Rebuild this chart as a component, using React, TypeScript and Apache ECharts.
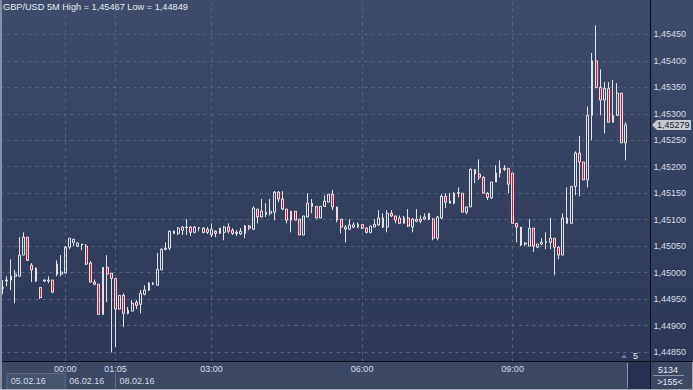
import React, { useEffect, useRef } from 'react';
import * as echarts from 'echarts';

const open = [
  1.44970,1.44984,1.44986,1.44993,1.44993,1.45033,1.45067,1.45014,1.45008,1.44972,
  1.44984,1.44984,1.44986,1.45016,1.44997,1.44999,1.45048,1.45057,1.45050,1.45052,
  1.45050,1.45018,1.44982,1.44978,1.44921,1.45010,1.44999,1.44989,1.44931,1.44957,
  1.44923,1.44927,1.44944,1.44940,1.44959,1.44967,1.44978,1.44976,1.45005,1.45044,
  1.45046,1.45074,1.45074,1.45080,1.45085,1.45086,1.45076,1.45084,1.45084,1.45082,
  1.45071,1.45078,1.45074,1.45076,1.45086,1.45080,1.45074,1.45073,1.45074,1.45088,
  1.45082,1.45120,1.45105,1.45114,1.45112,1.45114,1.45152,1.45139,1.45120,1.45099,
  1.45116,1.45101,1.45071,1.45105,1.45131,1.45125,1.45103,1.45125,1.45133,1.45148,
  1.45124,1.45101,1.45082,1.45082,1.45086,1.45086,1.45091,1.45084,1.45076,1.45086,
  1.45090,1.45103,1.45086,1.45112,1.45107,1.45103,1.45093,1.45103,1.45086,1.45097,
  1.45101,1.45101,1.45112,1.45101,1.45065,1.45103,1.45144,1.45131,1.45131,1.45150,
  1.45150,1.45114,1.45124,1.45195,1.45186,1.45180,1.45150,1.45141,1.45171,1.45188,
  1.45195,1.45197,1.45188,1.45093,1.45086,1.45054,1.45050,1.45084,1.45048,1.45054,
  1.45057,1.45057,1.45065,1.45048,1.45033,1.45103,1.45093,1.45163,1.45226,1.45209,
  1.45175,1.45297,1.45400,1.45350,1.45326,1.45348,1.45284,1.45297,1.45339,1.45245,
];
const close = [
  1.44972,1.44986,1.44993,1.44997,1.45033,1.45067,1.45023,1.45005,1.44984,1.44953,
  1.44986,1.44986,1.44963,1.44997,1.45001,1.45048,1.45065,1.45063,1.45056,1.45054,
  1.45016,1.44982,1.44978,1.44921,1.45010,1.44997,1.44989,1.44931,1.44957,1.44923,
  1.44929,1.44942,1.44938,1.44961,1.44967,1.44980,1.44980,1.45006,1.45044,1.45046,
  1.45078,1.45078,1.45084,1.45086,1.45086,1.45076,1.45086,1.45085,1.45076,1.45076,
  1.45082,1.45074,1.45084,1.45086,1.45078,1.45074,1.45076,1.45078,1.45088,1.45084,
  1.45122,1.45105,1.45116,1.45110,1.45116,1.45152,1.45139,1.45120,1.45099,1.45116,
  1.45099,1.45071,1.45107,1.45131,1.45125,1.45103,1.45125,1.45135,1.45148,1.45124,
  1.45099,1.45086,1.45086,1.45090,1.45090,1.45091,1.45084,1.45076,1.45088,1.45091,
  1.45103,1.45086,1.45112,1.45107,1.45099,1.45093,1.45103,1.45088,1.45101,1.45101,
  1.45097,1.45105,1.45101,1.45065,1.45105,1.45144,1.45133,1.45135,1.45150,1.45151,
  1.45114,1.45124,1.45195,1.45186,1.45180,1.45150,1.45142,1.45171,1.45188,1.45197,
  1.45197,1.45167,1.45093,1.45086,1.45052,1.45056,1.45084,1.45050,1.45054,1.45057,
  1.45059,1.45065,1.45048,1.45033,1.45103,1.45093,1.45163,1.45226,1.45209,1.45175,
  1.45297,1.45400,1.45350,1.45326,1.45348,1.45284,1.45297,1.45339,1.45245,1.45279,
];
const low = [
  1.44959,1.44974,1.44967,1.44942,1.44993,1.45033,1.45022,1.44982,1.44982,1.44950,
  1.44982,1.44980,1.44961,1.44993,1.44993,1.44999,1.45044,1.45050,1.45048,1.45042,
  1.45014,1.44982,1.44976,1.44921,1.44921,1.44944,1.44849,1.44859,1.44931,1.44897,
  1.44921,1.44927,1.44931,1.44923,1.44957,1.44965,1.44976,1.44976,1.45005,1.45042,
  1.45042,1.45073,1.45071,1.45071,1.45071,1.45069,1.45074,1.45078,1.45074,1.45073,
  1.45067,1.45067,1.45073,1.45061,1.45074,1.45071,1.45069,1.45071,1.45065,1.45080,
  1.45080,1.45093,1.45105,1.45105,1.45108,1.45099,1.45133,1.45118,1.45093,1.45076,
  1.45099,1.45071,1.45071,1.45105,1.45112,1.45103,1.45103,1.45124,1.45133,1.45118,
  1.45095,1.45074,1.45057,1.45080,1.45084,1.45084,1.45082,1.45074,1.45074,1.45086,
  1.45088,1.45084,1.45076,1.45105,1.45093,1.45093,1.45093,1.45086,1.45076,1.45095,
  1.45093,1.45099,1.45099,1.45061,1.45061,1.45101,1.45122,1.45131,1.45129,1.45142,
  1.45114,1.45110,1.45124,1.45169,1.45175,1.45150,1.45137,1.45139,1.45171,1.45180,
  1.45192,1.45150,1.45093,1.45057,1.45050,1.45050,1.45050,1.45039,1.45046,1.45052,
  1.45044,1.45044,1.44995,1.45025,1.45033,1.45093,1.45093,1.45146,1.45144,1.45175,
  1.45161,1.45250,1.45348,1.45297,1.45263,1.45284,1.45284,1.45297,1.45245,1.45212,
];
const high = [
  1.44986,1.44993,1.45025,1.45005,1.45067,1.45076,1.45067,1.45018,1.45010,1.44972,
  1.44987,1.44993,1.44986,1.45023,1.45033,1.45050,1.45065,1.45063,1.45057,1.45054,
  1.45054,1.45022,1.44987,1.44978,1.45010,1.45033,1.44999,1.44989,1.44957,1.44961,
  1.44935,1.44948,1.44948,1.44967,1.44976,1.44982,1.44982,1.45037,1.45046,1.45057,
  1.45080,1.45080,1.45086,1.45088,1.45101,1.45088,1.45088,1.45086,1.45086,1.45086,
  1.45093,1.45080,1.45084,1.45088,1.45093,1.45084,1.45080,1.45084,1.45090,1.45090,
  1.45125,1.45120,1.45139,1.45131,1.45139,1.45154,1.45154,1.45154,1.45120,1.45116,
  1.45116,1.45101,1.45107,1.45150,1.45139,1.45125,1.45125,1.45146,1.45148,1.45156,
  1.45124,1.45101,1.45090,1.45101,1.45095,1.45095,1.45091,1.45086,1.45088,1.45101,
  1.45118,1.45112,1.45118,1.45118,1.45107,1.45108,1.45107,1.45120,1.45103,1.45120,
  1.45108,1.45112,1.45112,1.45103,1.45107,1.45148,1.45150,1.45150,1.45152,1.45161,
  1.45150,1.45124,1.45197,1.45195,1.45214,1.45182,1.45152,1.45171,1.45203,1.45212,
  1.45203,1.45197,1.45188,1.45093,1.45086,1.45057,1.45101,1.45084,1.45054,1.45065,
  1.45076,1.45103,1.45065,1.45050,1.45112,1.45161,1.45163,1.45229,1.45258,1.45209,
  1.45314,1.45415,1.45467,1.45384,1.45360,1.45360,1.45364,1.45358,1.45339,1.45284,
];

const slotCount = 155;
const timeTickIndex = [15, 27, 50, 86, 122];
const timeTickText = ['00:00', '01:05', '03:00', '06:00', '09:00'];
const dateTickIndex = [1, 15, 27];
const dateTickText = ['05.02.16', '06.02.16', '08.02.16'];
const priceTicks = [1.4485, 1.449, 1.4495, 1.45, 1.4505, 1.451, 1.4515, 1.452, 1.4525, 1.453, 1.4535, 1.454, 1.4545];
const yMin = 1.44832;
const yMax = 1.45515;
const barsOnScreen = '>155<';
const volumeText = '5134';
const scrollText = '5';

const FONT = '"Liberation Sans", Arial, sans-serif';
const LABEL = '#d6dce8';
const GRIDC = '#5a6681';

const fmt = (v: number) => v.toFixed(5).replace('.', ',');

export default function App() {
  const ref = useRef<HTMLDivElement>(null);
  useEffect(() => {
    if (!ref.current) return;
    const chart = echarts.init(ref.current, undefined, { renderer: 'svg' });
    const categories = Array.from({ length: slotCount }, (_, i) => String(i));
    const candleData = open.map((o, i) => [o, close[i], low[i], high[i]]);
    const hi = Math.max(...high);
    const lo = Math.min(...low);
    const option: any = {
      animation: false,
      title: {
        text: `GBP/USD 5M High = ${fmt(hi)} Low = ${fmt(lo)}`,
        left: 3,
        top: 2,
        padding: 0,
        textStyle: { color: '#e6eaf2', fontSize: 9.2, fontWeight: 'normal', fontFamily: FONT },
      },
      grid: { left: 0.5, top: 0, width: 648, height: 361.5 },
      xAxis: [
        {
          type: 'category',
          data: categories,
          boundaryGap: true,
          axisLine: { show: false },
          axisTick: { show: false },
          splitLine: { show: false },
          axisLabel: {
            interval: (i: number) => timeTickIndex.includes(i),
            formatter: (_v: string, i: number) => {
              const k = timeTickIndex.indexOf(i);
              return k >= 0 ? timeTickText[k] : '';
            },
            color: LABEL,
            fontSize: 9,
            fontFamily: FONT,
            margin: 3,
          },
        },
        {
          type: 'category',
          data: categories,
          position: 'bottom',
          boundaryGap: true,
          axisLine: { show: false },
          axisTick: { show: false },
          splitLine: { show: false },
          axisLabel: {
            interval: (i: number) => dateTickIndex.includes(i),
            formatter: (_v: string, i: number) => {
              const k = dateTickIndex.indexOf(i);
              return k >= 0 ? dateTickText[k] : '';
            },
            align: 'left',
            padding: [0, 0, 0, 4],
            color: LABEL,
            fontSize: 9,
            fontFamily: FONT,
            margin: 15,
          },
        },
      ],
      yAxis: {
        type: 'value',
        position: 'right',
        min: yMin,
        max: yMax,
        axisLine: { show: false },
        axisTick: { show: false, customValues: priceTicks },
        splitLine: { show: true, customValues: priceTicks, lineStyle: { color: GRIDC, type: [3, 4], width: 1 } },
        axisLabel: {
          customValues: priceTicks,
          formatter: (v: number) => fmt(v),
          color: LABEL,
          fontSize: 9,
          fontFamily: FONT,
          margin: 5,
        },
      },
      series: [
        {
          type: 'candlestick',
          data: candleData,
          barWidth: 2.3,
          itemStyle: {
            color: 'transparent',
            color0: '#e0103c',
            borderColor: '#ffffff',
            borderColor0: '#ffffff',
            borderWidth: 0.85,
          },
          markLine: {
            silent: true,
            symbol: ['none', 'none'],
            label: { show: false },
            lineStyle: { color: GRIDC, type: [3, 4], width: 1 },
            emphasis: { disabled: true },
            data: timeTickIndex.map((i) => ({ xAxis: String(i) })),
            z: 1,
          },
        },
      ],
    };
    chart.setOption(option);

    const lastClose = close[close.length - 1];
    const tagY = chart.convertToPixel({ yAxisIndex: 0 }, lastClose) as number;
    const sepX = chart.convertToPixel({ xAxisIndex: 0 }, String(dateTickIndex[2])) as number;
    const boxR = chart.convertToPixel({ xAxisIndex: 0 }, String(dateTickIndex[1])) as number;

    const graphic: any[] = [
      {
        type: 'rect', z: -20, silent: true,
        shape: { x: 0, y: 0, width: 693, height: 362 },
        style: {
          fill: new echarts.graphic.LinearGradient(0, 0, 0, 1, [
            { offset: 0, color: '#3e4c69' },
            { offset: 1, color: '#2c3855' },
          ]),
        },
      },
      { type: 'rect', z: -20, silent: true, shape: { x: 0, y: 362, width: 693, height: 28 }, style: { fill: '#3d4963' } },
      { type: 'rect', z: -19, silent: true, shape: { x: 7, y: 373.5, width: boxR - 7, height: 17 }, style: { fill: '#46536d', stroke: '#5f6b85', lineWidth: 1 } },
      { type: 'line', z: -19, silent: true, shape: { x1: sepX, y1: 373, x2: sepX, y2: 390 }, style: { stroke: '#64708a', lineWidth: 1 } },
      { type: 'rect', z: -19, silent: true, shape: { x: 628, y: 362, width: 22, height: 28 }, style: { fill: '#263150' } },
      { type: 'line', z: -19, silent: true, shape: { x1: 627.5, y1: 363, x2: 627.5, y2: 388 }, style: { stroke: '#8a94a8', lineWidth: 1 } },
      { type: 'line', z: 10, silent: true, shape: { x1: 0, y1: 361.5, x2: 693, y2: 361.5 }, style: { stroke: '#0a0e16', lineWidth: 1 } },
      { type: 'line', z: 10, silent: true, shape: { x1: 650.5, y1: 0, x2: 650.5, y2: 390 }, style: { stroke: '#0a0e16', lineWidth: 1 } },
      { type: 'rect', z: 10, silent: true, shape: { x: 0, y: 0, width: 2, height: 390 }, style: { fill: '#8690a5' } },
      { type: 'line', z: 10, silent: true, shape: { x1: 0, y1: 389.5, x2: 693, y2: 389.5 }, style: { stroke: '#a3abba', lineWidth: 1 } },
      { type: 'line', z: 10, silent: true, shape: { x1: 692.5, y1: 362, x2: 692.5, y2: 390 }, style: { stroke: '#a3abba', lineWidth: 1 } },
      { type: 'polygon', z: 10, silent: true, shape: { points: [[621, 358], [624, 354.5], [627, 358]] }, style: { fill: '#6f7a90' } },
      { type: 'text', z: 10, silent: true, x: 633, y: 356, style: { text: scrollText, fill: '#e6eaf2', font: `9px ${FONT}`, verticalAlign: 'middle' } },
      { type: 'text', z: 10, silent: true, x: 668, y: 369.5, style: { text: volumeText, fill: '#e6eaf2', font: `9px ${FONT}`, align: 'center', verticalAlign: 'middle' } },
      { type: 'line', z: 10, silent: true, shape: { x1: 653, y1: 375.5, x2: 684, y2: 375.5 }, style: { stroke: '#8d97aa', lineWidth: 1 } },
      { type: 'text', z: 10, silent: true, x: 670, y: 382, style: { text: barsOnScreen, fill: '#e6eaf2', font: `9px ${FONT}`, align: 'center', verticalAlign: 'middle' } },
      {
        type: 'polygon', z: 10, silent: true,
        shape: { points: [[652, tagY], [657, tagY - 5], [691, tagY - 5], [691, tagY + 5], [657, tagY + 5]] },
        style: { fill: '#c6cad3' },
      },
      { type: 'text', z: 11, silent: true, x: 657, y: tagY, style: { text: fmt(lastClose), fill: '#1b2232', font: `9px ${FONT}`, verticalAlign: 'middle' } },
    ];
    chart.setOption({ graphic });

    return () => chart.dispose();
  }, []);
  return <div ref={ref} style={{ position: 'absolute', left: 0, top: 0, width: 693, height: 390 }} />;
}
